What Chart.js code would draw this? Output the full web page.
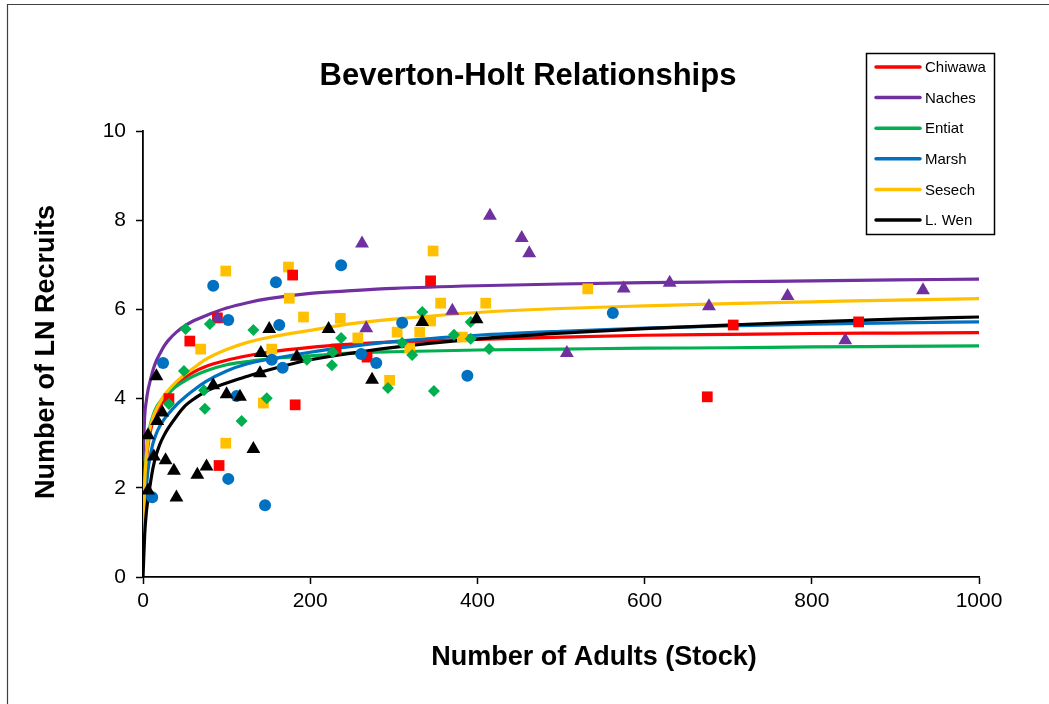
<!DOCTYPE html>
<html>
<head>
<meta charset="utf-8">
<script src="https://cdn.jsdelivr.net/npm/chart.js@4.4.1/dist/chart.umd.min.js"></script>
<style>
html,body{margin:0;padding:0;background:#fff;}
canvas{display:block;}
</style>
</head>
<body>
<canvas id="c" width="1049" height="704"></canvas>
<script>
// ---------- DATA ----------
const chartTitle = 'Beverton-Holt Relationships';
const xTitle = 'Number of Adults (Stock)';
const yTitle = 'Number of LN Recruits';
const seriesNames = ['Chiwawa', 'Naches', 'Entiat', 'Marsh', 'Sesech', 'L. Wen'];
const xTicks = [0, 200, 400, 600, 800, 1000];
const yTicks = [0, 2, 4, 6, 8, 10];

// observed stock (S) and recruits (R)
const chiwawaS = [31, 56, 89, 91, 179, 182, 231, 268, 344, 675, 706, 856];
const chiwawaR = [4.0, 5.29, 5.81, 2.5, 6.77, 3.86, 5.11, 4.93, 6.64, 4.04, 5.65, 5.72];
const nachesS = [89, 262, 267, 370, 415, 453, 462, 507, 575, 630, 677, 771, 840, 933];
const nachesR = [5.8, 7.48, 5.58, 5.97, 8.1, 7.6, 7.26, 5.02, 6.47, 6.6, 6.07, 6.3, 5.31, 6.43];
const entiatS = [31, 49, 51, 73, 74, 80, 118, 132, 148, 196, 226, 227, 237, 293, 310, 322, 334, 348, 372, 392, 392, 414];
const entiatR = [3.88, 4.62, 5.56, 4.19, 3.77, 5.67, 3.5, 5.54, 4.01, 4.87, 4.75, 5.04, 5.36, 4.24, 5.25, 4.98, 5.94, 4.17, 5.43, 5.72, 5.34, 5.11];
const marshS = [11, 24, 84, 102, 102, 112, 146, 154, 159, 163, 167, 237, 261, 279, 310, 388, 562];
const marshR = [1.79, 4.8, 6.53, 5.76, 2.2, 4.06, 1.61, 4.87, 6.61, 5.65, 4.69, 6.99, 5.0, 4.8, 5.7, 4.51, 5.92];
const sesechS = [69, 99, 99, 144, 154, 174, 175, 192, 236, 257, 295, 304, 319, 331, 344, 347, 356, 382, 410, 532];
const sesechR = [5.11, 6.86, 3.0, 3.9, 5.11, 6.95, 6.25, 5.83, 5.8, 5.36, 4.41, 5.49, 5.13, 5.49, 5.74, 7.31, 6.14, 5.38, 6.14, 6.46];
const lwenS = [6, 6, 13, 16, 17, 23, 27, 37, 40, 65, 76, 84, 100, 116, 132, 140, 141, 151, 184, 222, 274, 334, 399];
const lwenR = [3.18, 1.94, 2.7, 4.5, 3.5, 3.69, 2.62, 2.38, 1.78, 2.29, 2.48, 4.3, 4.1, 4.04, 2.87, 4.57, 5.02, 5.56, 4.94, 5.56, 4.42, 5.72, 5.78];

// fitted Beverton-Holt curves at these stock values
const curveS = [0, 2, 4, 6, 8, 12, 16, 20, 25, 30, 40, 50, 60, 75, 100, 125, 150, 200, 250, 300, 400, 500, 600, 700, 800, 900, 1000];
const chiwawaFit = [1.0, 2.0, 2.6, 2.95, 3.2, 3.5, 3.68, 3.82, 3.97, 4.1, 4.3, 4.47, 4.59, 4.72, 4.86, 4.96, 5.04, 5.15, 5.22, 5.27, 5.33, 5.38, 5.42, 5.44, 5.46, 5.47, 5.48];
const nachesFit = [2.6, 3.6, 3.95, 4.19, 4.35, 4.64, 4.85, 5.0, 5.17, 5.3, 5.49, 5.63, 5.74, 5.86, 6.03, 6.15, 6.24, 6.36, 6.42, 6.47, 6.53, 6.57, 6.6, 6.62, 6.64, 6.66, 6.68];
const entiatFit = [1.1, 2.1, 2.75, 3.1, 3.35, 3.62, 3.8, 3.92, 4.04, 4.12, 4.28, 4.4, 4.5, 4.62, 4.76, 4.83, 4.89, 4.96, 5.02, 5.05, 5.09, 5.11, 5.13, 5.14, 5.16, 5.17, 5.18];
const marshFit = [0.8, 1.5, 2.0, 2.4, 2.65, 3.0, 3.22, 3.38, 3.53, 3.65, 3.86, 4.03, 4.18, 4.38, 4.62, 4.78, 4.88, 5.04, 5.17, 5.28, 5.42, 5.51, 5.58, 5.63, 5.67, 5.7, 5.72];
const sesechFit = [0.9, 2.1, 2.7, 3.05, 3.3, 3.58, 3.76, 3.9, 4.06, 4.18, 4.38, 4.54, 4.68, 4.88, 5.1, 5.26, 5.37, 5.53, 5.68, 5.78, 5.93, 6.02, 6.08, 6.13, 6.17, 6.21, 6.24];
const lwenFit = [0, 0.95, 1.45, 1.75, 2.0, 2.45, 2.75, 2.97, 3.17, 3.33, 3.6, 3.83, 3.98, 4.16, 4.35, 4.5, 4.64, 4.87, 5.02, 5.15, 5.34, 5.47, 5.57, 5.65, 5.72, 5.78, 5.83];

// ---------- BUILD ----------
const FONT = "'Liberation Sans', Arial, Helvetica, sans-serif";
Chart.defaults.font.family = FONT;
Chart.defaults.color = '#000';

const colors = ['#FF0000', '#7030A0', '#00B050', '#0070C0', '#FFC000', '#000000'];
const obsS = [chiwawaS, nachesS, entiatS, marshS, sesechS, lwenS];
const obsR = [chiwawaR, nachesR, entiatR, marshR, sesechR, lwenR];
const fits = [chiwawaFit, nachesFit, entiatFit, marshFit, sesechFit, lwenFit];
const styles = ['rect', 'triangle', 'rectRot', 'circle', 'rect', 'triangle'];
const radii = [7.6, 8, 6, 6, 7.6, 8];
const pointOrder = [3, 2, 1.5, 1.2, 4, 0];

const pairs = (xs, ys) => xs.map((x, i) => ({ x: x, y: ys[i] }));

const datasets = [];
seriesNames.forEach((name, i) => {
  datasets.push({
    label: name + ' obs',
    data: pairs(obsS[i], obsR[i]),
    showLine: false,
    pointStyle: styles[i],
    pointRadius: radii[i],
    pointBackgroundColor: colors[i],
    pointBorderColor: colors[i],
    pointBorderWidth: 0,
    order: pointOrder[i],
    isFit: false
  });
});
seriesNames.forEach((name, i) => {
  datasets.push({
    label: name,
    data: pairs(curveS, fits[i]),
    showLine: true,
    borderColor: colors[i],
    borderWidth: 3.2,
    pointRadius: 0,
    cubicInterpolationMode: 'monotone',
    order: 20 - i,
    isFit: true
  });
});

const decor = {
  id: 'decor',
  beforeDraw(chart) {
    const ctx = chart.ctx;
    ctx.save();
    ctx.fillStyle = '#fff';
    ctx.fillRect(0, 0, chart.width, chart.height);
    ctx.strokeStyle = '#404040';
    ctx.lineWidth = 1.2;
    ctx.beginPath();
    ctx.moveTo(7.5, chart.height);
    ctx.lineTo(7.5, 4.5);
    ctx.lineTo(chart.width, 4.5);
    ctx.stroke();
    ctx.restore();
  },
  afterDraw(chart) {
    const ctx = chart.ctx;
    ctx.save();
    ctx.fillStyle = '#000';
    ctx.textAlign = 'center';
    ctx.textBaseline = 'middle';
    ctx.font = 'bold 31px ' + FONT;
    ctx.fillText(chartTitle, 528, 76);
    ctx.font = 'bold 27px ' + FONT;
    ctx.fillText(xTitle, 594, 658);
    ctx.save();
    ctx.translate(47, 352);
    ctx.rotate(-Math.PI / 2);
    ctx.fillText(yTitle, 0, 0);
    ctx.restore();

    // legend
    ctx.strokeStyle = '#000';
    ctx.lineWidth = 1.5;
    ctx.strokeRect(866.5, 53.5, 128, 181);
    const fitsDs = chart.data.datasets.filter(d => d.isFit);
    ctx.textAlign = 'left';
    ctx.font = '15px ' + FONT;
    fitsDs.forEach((d, k) => {
      const y = 67 + k * 30.6;
      ctx.strokeStyle = d.borderColor;
      ctx.lineWidth = 3.5;
      ctx.lineCap = 'round';
      ctx.beginPath();
      ctx.moveTo(876, y);
      ctx.lineTo(920, y);
      ctx.stroke();
      ctx.fillStyle = '#000';
      ctx.fillText(d.label, 925, y + 1);
    });
    ctx.restore();
  }
};

new Chart(document.getElementById('c'), {
  type: 'scatter',
  data: { datasets: datasets },
  options: {
    responsive: false,
    animation: false,
    devicePixelRatio: 1,
    events: [],
    layout: { padding: { left: 0, top: 131, right: 70, bottom: 0 } },
    plugins: { legend: { display: false }, tooltip: { enabled: false }, title: { display: false } },
    scales: {
      x: {
        type: 'linear', min: 0, max: 1000,
        afterBuildTicks: s => { s.ticks = xTicks.map(v => ({ value: v })); },
        afterFit: s => { s.height = 127; },
        ticks: { color: '#000', font: { size: 21 }, padding: 5, maxRotation: 0, callback: v => String(v) },
        grid: { drawOnChartArea: false, tickLength: 7, tickColor: '#000', tickWidth: 1.5 },
        border: { color: '#000', width: 1.8 }
      },
      y: {
        type: 'linear', min: 0, max: 10,
        afterBuildTicks: s => { s.ticks = yTicks.map(v => ({ value: v })); },
        afterFit: s => { s.width = 143; },
        ticks: { color: '#000', font: { size: 21 }, padding: 10, callback: v => String(v) },
        grid: { drawOnChartArea: false, tickLength: 7, tickColor: '#000', tickWidth: 1.5 },
        border: { color: '#000', width: 1.8 }
      }
    }
  },
  plugins: [decor]
});
</script>
</body>
</html>
